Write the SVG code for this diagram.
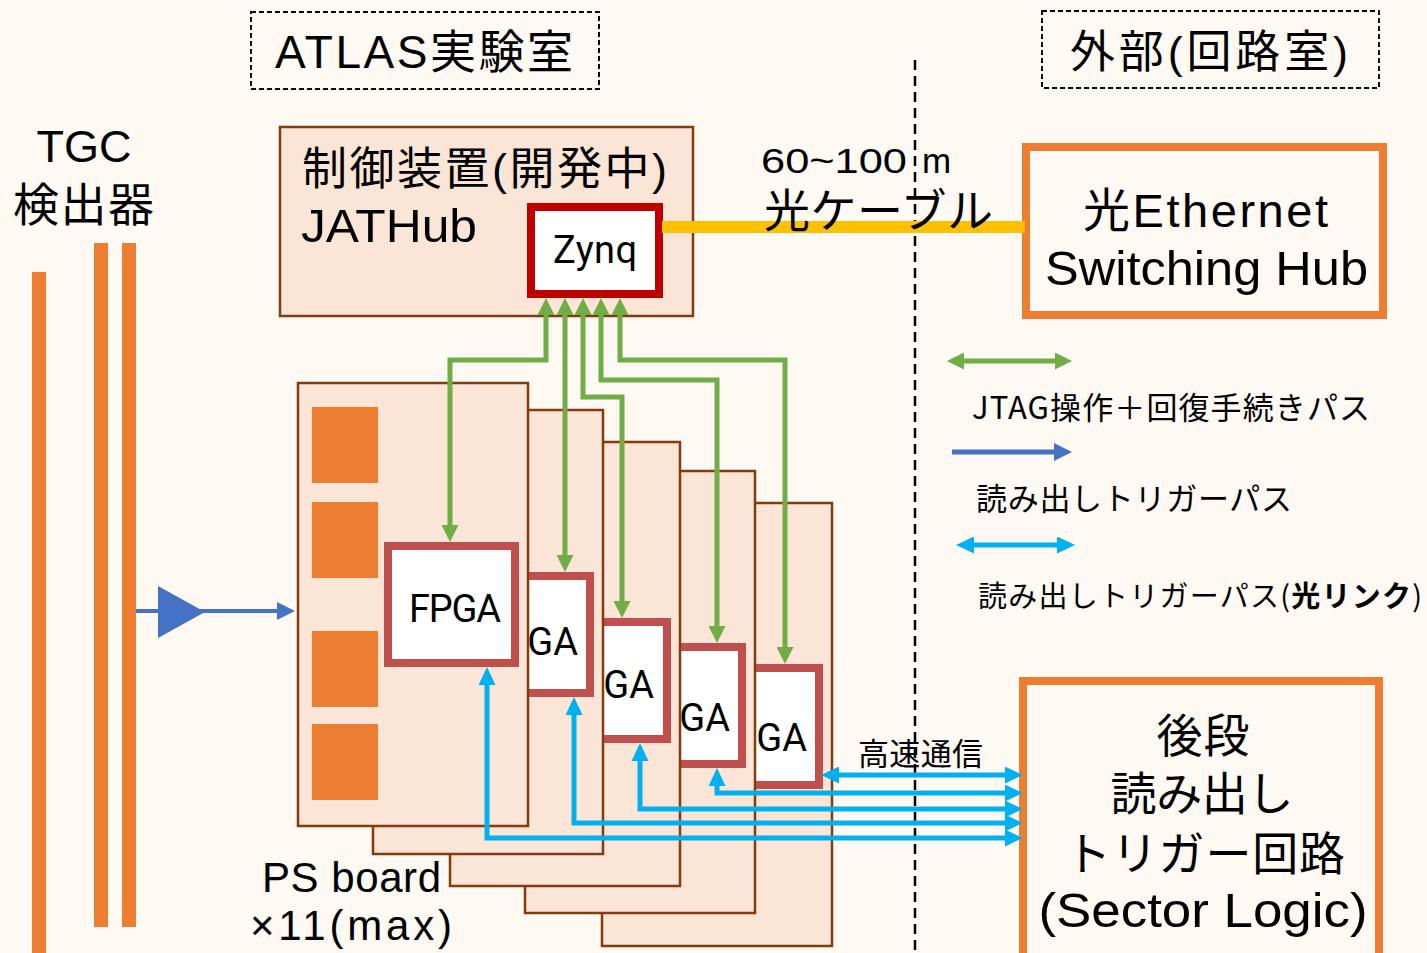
<svg xmlns="http://www.w3.org/2000/svg" width="1427" height="953" viewBox="0 0 1427 953">
<defs>
<style>
.t{font-family:"Noto Sans CJK JP","Noto Sans",sans-serif;fill:#000}
.s{font-family:"Liberation Sans","Noto Sans CJK JP",sans-serif;fill:#000}
.r{font-family:Roboto,"Noto Sans",sans-serif;fill:#000}
.board{fill:#fbe5d6;stroke:#843c0c;stroke-width:2.5}
.chip{fill:#fff;stroke:#c0504d;stroke-width:8}
.pad{fill:#ed7d31}
.bar{fill:#ed7d31}
.obox{fill:#fff9f4;stroke:#ed7d31;stroke-width:8}
.dbox{fill:none;stroke:#000;stroke-width:2;stroke-dasharray:5 3}
.g{fill:none;stroke:#70ad47;stroke-width:5;marker-start:url(#gh);marker-end:url(#gh)}
.c{fill:none;stroke:#00b0f0;stroke-width:5;marker-start:url(#ch);marker-end:url(#ch)}
.b{fill:none;stroke:#4472c4;stroke-width:4;marker-end:url(#bh)}
</style>
<marker id="gh" markerUnits="userSpaceOnUse" markerWidth="17" markerHeight="17" refX="7" refY="8.5" orient="auto-start-reverse"><path d="M0,0 L17,8.5 L0,17 z" fill="#70ad47"/></marker>
<marker id="ch" markerUnits="userSpaceOnUse" markerWidth="18" markerHeight="17" refX="8" refY="8.5" orient="auto-start-reverse"><path d="M0,0 L18,8.5 L0,17 z" fill="#00b0f0"/></marker>
<marker id="bh" markerUnits="userSpaceOnUse" markerWidth="18" markerHeight="18" refX="8" refY="9" orient="auto"><path d="M0,0 L18,9 L0,18 z" fill="#4472c4"/></marker>
</defs>
<rect x="0" y="0" width="1427" height="953" fill="#fff9f4"/>

<g id="atlas-label">
<rect class="dbox" x="251" y="12" width="348" height="77"/>
<text class="s" x="275" y="68" font-size="46" textLength="298">ATLAS実験室</text>
</g>
<g id="outside-label">
<rect class="dbox" x="1042" y="11" width="337" height="77"/>
<text class="s" x="1070" y="68" font-size="45" textLength="278">外部(回路室)</text>
</g>

<g id="boundary">
<path d="M915,60 V953" stroke="#000" stroke-width="2.5" stroke-dasharray="10 6" fill="none"/>
</g>

<g id="tgc">
<text class="s" x="84" y="162" font-size="45" text-anchor="middle">TGC</text>
<text class="s" x="13" y="221" font-size="46" textLength="141">検出器</text>
<rect class="bar" x="32" y="272" width="14" height="681"/>
<rect class="bar" x="94" y="243" width="14" height="684"/>
<rect class="bar" x="122" y="243" width="14" height="684"/>
</g>

<g id="jathub">
<rect class="board" x="280" y="127" width="413" height="189"/>
<text class="s" x="302" y="185" font-size="45" textLength="365">制御装置(開発中)</text>
<text class="s" x="301" y="242" font-size="47" textLength="176" lengthAdjust="spacingAndGlyphs">JATHub</text>
</g>
<g id="zynq">
<rect x="531" y="207" width="128" height="87" fill="#fff" stroke="#c00000" stroke-width="8"/>
<text class="r" x="553" y="263" font-size="38" textLength="84">Zynq</text>
</g>

<g id="ps-board-5">
<rect class="board" x="602" y="503" width="230" height="443"/>
<rect class="chip" x="692" y="668" width="127" height="117"/>
<text class="r" x="807" y="751" font-size="38" text-anchor="end">GA</text>
</g>
<g id="ps-board-4">
<rect class="board" x="525" y="471" width="230" height="442"/>
<rect class="chip" x="615" y="647" width="127" height="117"/>
<text class="r" x="730" y="731" font-size="38" text-anchor="end">GA</text>
</g>
<g id="ps-board-3">
<rect class="board" x="450" y="442" width="230" height="444"/>
<rect class="chip" x="540" y="622" width="127" height="117"/>
<text class="r" x="654" y="698" font-size="38" text-anchor="end">GA</text>
</g>
<g id="ps-board-2">
<rect class="board" x="373" y="410" width="230" height="444"/>
<rect class="chip" x="463" y="576" width="127" height="117"/>
<text class="r" x="578" y="655" font-size="38" text-anchor="end">GA</text>
</g>
<g id="ps-board-1">
<rect class="board" x="298" y="383" width="230" height="443"/>
<rect class="pad" x="312" y="407" width="66" height="76"/>
<rect class="pad" x="312" y="502" width="66" height="76"/>
<rect class="pad" x="312" y="631" width="66" height="76"/>
<rect class="pad" x="312" y="724" width="66" height="76"/>
<rect class="chip" x="388" y="546" width="127" height="117"/>
<text class="r" x="409" y="622" font-size="38" textLength="92">FPGA</text>
</g>
<g id="ps-label">
<text class="s" x="262" y="892" font-size="42" textLength="179">PS board</text>
<text class="s" x="250" y="940" font-size="42" textLength="202">×11(max)</text>
</g>

<g id="switching-hub">
<rect class="obox" x="1026" y="147" width="357" height="168"/>
<text class="s" x="1083" y="227" font-size="47" textLength="245">光Ethernet</text>
<text class="s" x="1045" y="285" font-size="48" textLength="323" lengthAdjust="spacingAndGlyphs">Switching Hub</text>
</g>

<g id="sector-logic">
<rect class="obox" x="1023" y="681" width="356" height="300"/>
<text class="s" x="1203" y="752" font-size="46" text-anchor="middle" textLength="93">後段</text>
<text class="s" x="1202" y="810" font-size="46" text-anchor="middle" textLength="183">読み出し</text>
<text class="s" x="1205" y="870" font-size="46" text-anchor="middle" textLength="280">トリガー回路</text>
<text class="s" x="1203" y="927" font-size="48" text-anchor="middle" textLength="329" lengthAdjust="spacingAndGlyphs">(Sector Logic)</text>
</g>

<g id="connectors">
<path d="M662,227 H1025" stroke="#ffc000" stroke-width="12" fill="none"/>
<text class="s" x="761" y="173" font-size="35"><tspan textLength="146" lengthAdjust="spacingAndGlyphs">60~100</tspan><tspan x="922">m</tspan></text>
<text class="s" x="764" y="227" font-size="46" textLength="229">光ケーブル</text>
<path class="g" d="M546,308 V360 H450 V532"/>
<path class="g" d="M565,308 V562"/>
<path class="g" d="M583,308 V397 H622 V608"/>
<path class="g" d="M601,308 V380 H717 V633"/>
<path class="g" d="M620,308 V360 H785 V654"/>
<path class="c" d="M831,775 H1013"/>
<path class="c" d="M717,778 V793 H1013"/>
<path class="c" d="M640,753 V809 H1013"/>
<path class="c" d="M574,707 V823 H1013"/>
<path class="c" d="M487,677 V838 H1013"/>
<text class="t" x="858" y="765" font-size="31" textLength="125">高速通信</text>
<path class="b" d="M136,611 H285"/>
<polygon points="158,586 158,638 205,612" fill="#4472c4"/>
</g>

<g id="legend">
<path class="g" d="M957,361 H1062"/>
<text class="t" x="972" y="419" font-size="31" textLength="398">JTAG操作＋回復手続きパス</text>
<path d="M952,452 H1062" fill="none" stroke="#4472c4" stroke-width="5" marker-end="url(#bh)"/>
<text class="t" x="976" y="510" font-size="31" textLength="316">読み出しトリガーパス</text>
<path class="c" d="M966,545 H1065"/>
<text class="t" x="978" y="607" font-size="29" textLength="444">読み出しトリガーパス(<tspan font-weight="bold">光リンク</tspan>)</text>
</g>
</svg>
